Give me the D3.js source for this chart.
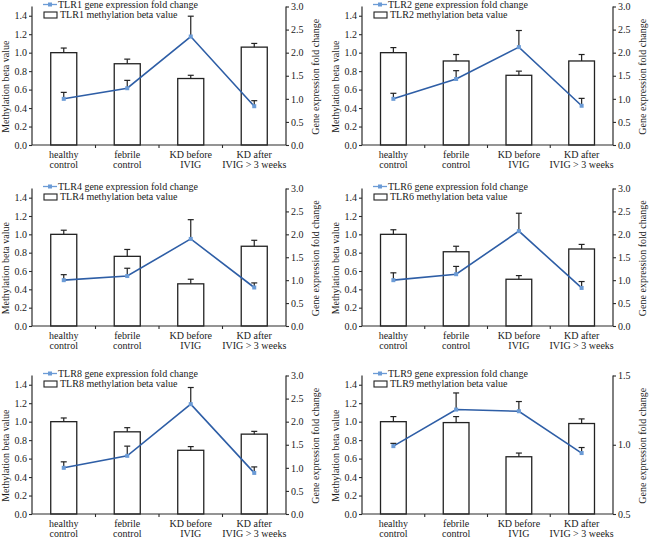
<!DOCTYPE html>
<html>
<head>
<meta charset="utf-8">
<script src="https://cdn.jsdelivr.net/npm/d3@7"></script>
<style>
html,body{margin:0;padding:0;background:#fff;}
svg{display:block;}
svg text{font-family:"Liberation Serif","Times New Roman",serif;font-size:10px;fill:#1a1a1a;}
</style>
</head>
<body>
<svg id="chart" width="650" height="539"></svg>
<script>
// ---- data ----
const categories = [["healthy","control"],["febrile","control"],["KD before","IVIG"],["KD after","IVIG > 3 weeks"]];
const genes = ["TLR1","TLR2","TLR4","TLR6","TLR8","TLR9"];
const methylation = [
  [1.00,0.88,0.72,1.06],
  [1.00,0.91,0.755,0.91],
  [1.00,0.76,0.46,0.87],
  [1.00,0.81,0.51,0.84],
  [1.00,0.89,0.69,0.865],
  [1.00,0.99,0.62,0.98]
];
const methylationErr = [
  [0.05,0.05,0.035,0.04],
  [0.055,0.07,0.045,0.07],
  [0.045,0.075,0.05,0.065],
  [0.05,0.06,0.04,0.05],
  [0.04,0.045,0.04,0.03],
  [0.055,0.065,0.04,0.05]
];
const expression = [
  [1.00,1.23,2.35,0.84],
  [1.00,1.43,2.12,0.85],
  [1.00,1.09,1.90,0.84],
  [1.00,1.13,2.07,0.83],
  [1.00,1.26,2.38,0.89],
  [0.99,1.254,1.242,0.94]
];
const expressionErr = [
  [0.14,0.17,0.44,0.12],
  [0.12,0.18,0.36,0.16],
  [0.12,0.17,0.42,0.10],
  [0.16,0.17,0.39,0.14],
  [0.13,0.21,0.36,0.13],
  [0.02,0.12,0.07,0.04]
];
const leftDomain = [0,1.5];
const leftTicks = [0,0.2,0.4,0.6,0.8,1.0,1.2,1.4];
const rightDomains = [[0,3],[0,3],[0,3],[0,3],[0,3],[0.5,1.5]];
const rightTicks = [
  [0,0.5,1,1.5,2,2.5,3],[0,0.5,1,1.5,2,2.5,3],[0,0.5,1,1.5,2,2.5,3],
  [0,0.5,1,1.5,2,2.5,3],[0,0.5,1,1.5,2,2.5,3],[0.5,1.0,1.5]
];
const leftTitle = "Methylation beta value";
const rightTitle = "Gene expression fold change";

// ---- layout ----
const colL = [32, 362], colR = [286, 613];
const rowT = [6.5, 188.5, 375.5], rowB = [145, 326, 514];
const lineColor = "#2e5ea6", markerColor = "#6b9bd6", axisColor = "#2a2a2a";
const FONT = "'Liberation Serif','Times New Roman',serif";

const svg = d3.select("#chart");

genes.forEach((g, gi) => {
  const c = gi % 2, r = Math.floor(gi / 2);
  const L = colL[c], R = colR[c], T = rowT[r], B = rowB[r];
  const gp = svg.append("g").attr("font-family", FONT).attr("font-size", 10);

  const x = d3.scaleBand().domain(d3.range(categories.length)).range([L, R])
    .paddingInner(0.59).paddingOuter(0.295);
  const yL = d3.scaleLinear().domain(leftDomain).range([B, T]);
  const yR = d3.scaleLinear().domain(rightDomains[gi]).range([B, T]);

  // bars
  const mv = methylation[gi], me = methylationErr[gi];
  gp.selectAll("rect.bar").data(mv).join("rect").attr("class","bar")
    .attr("x",(d,i)=>x(i)).attr("width",x.bandwidth())
    .attr("y",d=>yL(d)).attr("height",d=>B-yL(d))
    .attr("fill","#fff").attr("stroke","#222").attr("stroke-width",1.3);
  mv.forEach((d,i)=>{
    const cx = x(i)+x.bandwidth()/2;
    gp.append("line").attr("x1",cx).attr("x2",cx).attr("y1",yL(d)).attr("y2",yL(d+me[i]))
      .attr("stroke","#222").attr("stroke-width",1.2);
    gp.append("line").attr("x1",cx-3).attr("x2",cx+3).attr("y1",yL(d+me[i])).attr("y2",yL(d+me[i]))
      .attr("stroke","#222").attr("stroke-width",1.2);
  });

  // axes
  const axL = d3.axisLeft(yL).tickValues(leftTicks).tickFormat(d3.format(".1f")).tickSize(3).tickPadding(2);
  const gL = gp.append("g").attr("transform",`translate(${L},0)`).call(axL);
  const axR = d3.axisRight(yR).tickValues(rightTicks[gi]).tickFormat(d3.format(".1f")).tickSize(3).tickPadding(2);
  const gR = gp.append("g").attr("transform",`translate(${R},0)`).call(axR);
  [gL,gR].forEach(a=>{
    a.attr("font-family", FONT).attr("font-size", 10);
    a.select(".domain").remove();
    a.selectAll(".tick line").attr("stroke",axisColor).attr("stroke-width",1.1);
    a.selectAll("text").attr("fill","#1a1a1a");
  });
  gp.append("line").attr("x1",L).attr("x2",L).attr("y1",T).attr("y2",B).attr("stroke",axisColor).attr("stroke-width",1.2);
  gp.append("line").attr("x1",R).attr("x2",R).attr("y1",T).attr("y2",B).attr("stroke",axisColor).attr("stroke-width",1.2);
  gp.append("line").attr("x1",L).attr("x2",R).attr("y1",B).attr("y2",B).attr("stroke",axisColor).attr("stroke-width",1.2);
  for (let i=1;i<categories.length;i++){
    const tx = L + i*x.step();
    gp.append("line").attr("x1",tx).attr("x2",tx).attr("y1",B).attr("y2",B+3).attr("stroke",axisColor).attr("stroke-width",1.1);
  }
  categories.forEach((lab,i)=>{
    const cx = x(i)+x.bandwidth()/2;
    const t = gp.append("text").attr("x",cx).attr("y",B+12.5).attr("text-anchor","middle");
    t.append("tspan").attr("x",cx).text(lab[0]);
    t.append("tspan").attr("x",cx).attr("dy",10.5).text(lab[1]);
  });

  const ly = (T+B)/2 + 11;
  gp.append("text").attr("transform",`translate(${L-23},${ly}) rotate(-90)`).attr("text-anchor","middle").text(leftTitle);
  const ry = (T+B)/2 + 1;
  gp.append("text").attr("transform",`translate(${R+33},${ry}) rotate(-90)`).attr("text-anchor","middle").text(rightTitle);

  // line series
  const ev = expression[gi], ee = expressionErr[gi];
  ev.forEach((d,i)=>{
    const cx = x(i)+x.bandwidth()/2;
    gp.append("line").attr("x1",cx).attr("x2",cx).attr("y1",yR(d)).attr("y2",yR(d+ee[i]))
      .attr("stroke","#222").attr("stroke-width",1.2);
    gp.append("line").attr("x1",cx-3).attr("x2",cx+3).attr("y1",yR(d+ee[i])).attr("y2",yR(d+ee[i]))
      .attr("stroke","#222").attr("stroke-width",1.2);
  });
  const line = d3.line().x((d,i)=>x(i)+x.bandwidth()/2).y(d=>yR(d));
  gp.append("path").datum(ev).attr("d",line).attr("fill","none").attr("stroke",lineColor).attr("stroke-width",1.6);
  gp.selectAll("rect.mk").data(ev).join("rect").attr("class","mk")
    .attr("x",(d,i)=>x(i)+x.bandwidth()/2-2).attr("y",d=>yR(d)-2).attr("width",4).attr("height",4)
    .attr("fill",markerColor);

  // legend
  const lgY1 = T-2, lgY2 = T+8.5;
  gp.append("line").attr("x1",L+11).attr("x2",L+25).attr("y1",lgY1).attr("y2",lgY1).attr("stroke",markerColor).attr("stroke-width",1.3);
  gp.append("rect").attr("x",L+16).attr("y",lgY1-2).attr("width",4).attr("height",4).attr("fill",markerColor);
  gp.append("text").attr("x",L+26).attr("y",lgY1).attr("dy","0.33em").text(g+" gene expression fold change");
  gp.append("rect").attr("x",L+12).attr("y",T+5.5).attr("width",13).attr("height",6)
    .attr("fill","#fff").attr("stroke","#222").attr("stroke-width",1.1);
  gp.append("text").attr("x",L+28).attr("y",lgY2).attr("dy","0.33em").text(g+" methylation beta value");
});
</script>
</body>
</html>
